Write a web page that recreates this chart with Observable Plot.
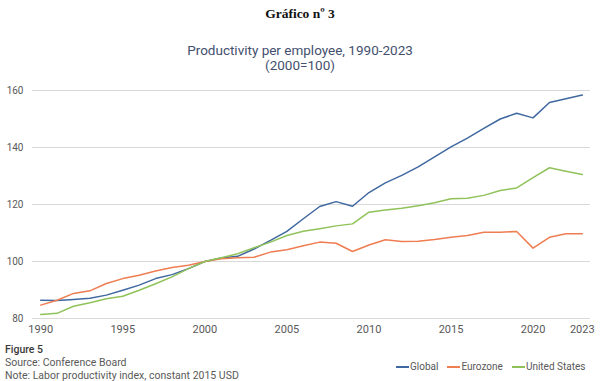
<!DOCTYPE html>
<html>
<head>
<meta charset="utf-8">
<script src="https://cdn.jsdelivr.net/npm/d3@7"></script>
<script src="https://cdn.jsdelivr.net/npm/@observablehq/plot@0.6"></script>
<style>
  html, body { margin: 0; padding: 0; background: #fff; }
  body { width: 600px; height: 381px; position: relative; overflow: hidden; font-family: Roboto, "Open Sans", sans-serif; }
  .abs { position: absolute; white-space: nowrap; }
  #g3 { top: 6px; left: 0; width: 600px; text-align: center; font-family: "Liberation Serif", "DejaVu Serif", serif; font-weight: bold; font-size: 13.5px; color: #111; }
  #title { top: 43px; left: 0; width: 600px; text-align: center; font-size: 13.5px; color: #44506e; line-height: 15px; }
  #chart { position: absolute; top: 80px; left: 0; }
  #foot { top: 343px; left: 5px; font-size: 10.5px; color: #595959; line-height: 13px; }
  #foot b { font-weight: 500; color: #3a3a3a; }
  #legend { top: 361px; left: 396px; font-size: 10px; color: #595959; display: flex; gap: 9px; }
  #legend span { display: inline-flex; align-items: center; }
  #legend i { display: inline-block; width: 13px; height: 2px; margin-right: 1px; }
</style>
</head>
<body>
<div class="abs" id="g3">Gráfico nº 3</div>
<div class="abs" id="title">Productivity per employee, 1990-2023<br>(2000=100)</div>
<div id="chart"></div>
<div class="abs" id="foot"><b>Figure 5</b><br>Source: Conference Board<br>Note: Labor productivity index, constant 2015 USD</div>
<div class="abs" id="legend"></div>
<script>
const years = d3.range(1990, 2024);
const global = [86.4, 86.3, 86.7, 87.1, 88.2, 89.9, 91.7, 94.0, 95.4, 97.5,
  100, 101.2, 101.8, 104.4, 107.4, 110.6, 115.0, 119.3, 121.0, 119.4,
  124.2, 127.6, 130.2, 133.2, 136.7, 140.2, 143.3, 146.7, 150.0, 152.0,
  150.4, 155.8, 157.1, 158.4];
const eurozone = [84.7, 86.4, 88.8, 89.7, 92.3, 94.0, 95.2, 96.7, 97.9, 98.7,
  100, 101.0, 101.3, 101.5, 103.3, 104.1, 105.5, 106.8, 106.4, 103.5,
  105.8, 107.6, 107.0, 107.1, 107.7, 108.5, 109.1, 110.3, 110.3, 110.5,
  104.7, 108.5, 109.7, 109.7];
const unitedStates = [81.4, 81.8, 84.3, 85.5, 86.9, 87.8, 89.9, 92.2, 94.6, 97.5,
  100, 101.3, 102.7, 104.8, 106.8, 109.1, 110.6, 111.5, 112.5, 113.2,
  117.3, 118.1, 118.7, 119.6, 120.6, 122.0, 122.2, 123.2, 124.9, 125.8,
  129.4, 132.9, 131.7, 130.5];
const seriesNames = ["Global", "Eurozone", "United States"];
const seriesColors = ["#3f68a0", "#ee7d52", "#90c25a"];
const xTicks = [1990, 1995, 2000, 2005, 2010, 2015, 2020, 2023];
const yTicks = [80, 100, 120, 140, 160];

const seriesValues = [global, eurozone, unitedStates];
const data = [];
seriesNames.forEach((name, i) => years.forEach((y, j) => data.push({series: name, year: y, value: seriesValues[i][j]})));

const chart = Plot.plot({
  width: 600,
  height: 260,
  marginTop: 10,
  marginBottom: 22,
  marginLeft: 32,
  marginRight: 10,
  style: {fontFamily: "Roboto, sans-serif", color: "#595959", background: "transparent"},
  x: {domain: [1989.5, 2023.5], ticks: xTicks, tickFormat: d => String(d), tickSize: 0, tickPadding: 7, label: null},
  y: {domain: [80, 160], ticks: yTicks, tickSize: 0, tickPadding: 9, label: null},
  color: {domain: seriesNames, range: seriesColors},
  marks: [
    Plot.ruleY(yTicks, {stroke: "#d9d9d9", strokeWidth: 1}),
    Plot.axisX({ticks: xTicks, tickFormat: d => String(d), tickSize: 0, tickPadding: 7, fontSize: 11, label: null}),
    Plot.axisY({ticks: yTicks, tickSize: 0, tickPadding: 9, fontSize: 10, label: null}),
    Plot.line(data, {x: "year", y: "value", z: "series", stroke: "series", strokeWidth: 1.5})
  ]
});
document.getElementById("chart").appendChild(chart);

const legend = document.getElementById("legend");
seriesNames.forEach((n, i) => {
  const s = document.createElement("span");
  s.innerHTML = `<i style="background:${seriesColors[i]}"></i>${n}`;
  legend.appendChild(s);
});
</script>
</body>
</html>
